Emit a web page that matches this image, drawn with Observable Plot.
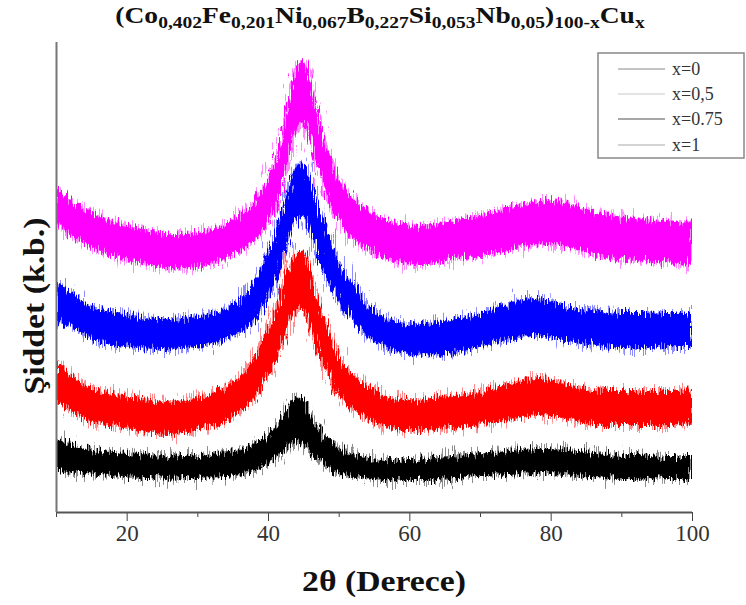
<!DOCTYPE html>
<html>
<head>
<meta charset="utf-8">
<script src="https://cdn.jsdelivr.net/npm/d3@7"></script>
<script src="https://cdn.jsdelivr.net/npm/@observablehq/plot@0.6"></script>
<style>
  html, body { margin: 0; padding: 0; background: #fff; }
  #chart { width: 746px; height: 605px; }
</style>
</head>
<body>
<div id="chart"></div>
<script>
// 2θ positions (degrees) where the envelope of each pattern was read
const twoTheta = [10,12,14,16,18,20,22,24,26,28,30,32,34,36,38,
  40,41,42,43,44,45,46,47,48,49,50,
  52,54,56,58,60,62,64,66,68,70,72,74,76,78,80,82,84,86,88,90,92,94,96,98,100];

const seriesNames = ["x=0", "x=0,5", "x=0.75", "x=1"];
const seriesColors = ["#000000", "#ff0000", "#0000ff", "#ff00ff"];
const legendLineColors = ["#8a8a8a", "#c8c8c8", "#505050", "#a8a8a8"];
const xTicks = [20, 40, 60, 80, 100];
const xMinorTicks = [10, 30, 50, 70, 90];

// centre of the noisy band (arbitrary intensity units, offset stacked)
const centre_x0 = [57,54,51,49,48,47,46,45,44,45,45,46,48,50,54,
  63,69,77,87,92,91,79,69,61,56,51,
  47,44,42,42,42,42,43,44,46,47,48,49,50,51,51,50,49,47,46,45,45,45,44,44,44];
const spread_x0 = [16,14,13,12,12,12,12,11,11,11,11,11,12,12,13,
  15,16,18,20,22,22,18,16,14,13,12,
  11,10,10,10,10,10,11,11,11,11,12,12,12,12,12,12,12,12,12,12,12,11,11,11,11];

const centre_x05 = [132,120,110,105,102,99,97,95,94,95,98,102,109,118,134,
  162,176,196,217,231,233,210,187,167,152,136,
  120,110,102,98,97,97,99,100,101,103,107,110,113,115,114,111,108,105,104,104,104,104,104,104,104];
const spread_x05 = [21,18,17,16,16,16,16,16,16,16,16,16,17,18,20,
  24,25,27,28,28,28,27,25,23,21,19,
  17,16,15,15,15,15,16,16,16,16,17,18,18,18,18,17,17,17,17,17,17,17,17,17,18];

const centre_x075 = [212,202,194,188,184,181,179,178,178,179,180,183,188,196,210,
  237,254,276,300,319,322,307,284,262,245,230,
  210,192,182,176,174,173,174,176,178,182,186,190,194,195,193,189,186,184,182,181,181,181,182,182,182];
const spread_x075 = [20,17,16,16,16,16,15,15,15,15,15,15,16,16,20,
  23,24,26,26,26,26,26,25,24,22,20,
  18,16,15,15,15,15,16,16,16,16,17,18,18,18,18,17,17,17,17,17,17,17,17,17,17];

const centre_x1 = [307,294,286,279,274,269,265,263,261,261,262,265,271,279,290,
  312,328,352,384,414,420,400,372,347,327,312,
  294,283,275,270,267,266,269,272,274,276,279,282,286,289,290,288,283,279,276,274,273,271,270,269,269];
const spread_x1 = [18,18,17,17,17,17,17,17,17,17,17,17,17,18,20,
  22,23,26,28,30,30,28,26,24,22,21,
  20,19,19,19,19,19,19,19,20,20,20,21,21,22,22,22,21,21,21,21,21,21,21,21,22];

const centres = [centre_x0, centre_x05, centre_x075, centre_x1];
const spreads = [spread_x0, spread_x05, spread_x075, spread_x1];

const rows = [];
seriesNames.forEach((s, i) => {
  twoTheta.forEach((t, j) => {
    rows.push({series: s, x: t, lo: centres[i][j] - spreads[i][j], hi: centres[i][j] + spreads[i][j]});
  });
});

const SERIF = "Liberation Serif";
const W = 746, H = 605;
const bandMarks = [];
seriesNames.forEach((s, i) => {
  const d = rows.filter(r => r.series === s);
  // faint spike halo, then the dense core of the pattern
  bandMarks.push(Plot.areaY(d, {x: "x", y1: "lo", y2: "hi", fill: seriesColors[i], fillOpacity: 0.45, curve: "catmull-rom"}));
  bandMarks.push(Plot.areaY(d, {x: "x", y1: "lo", y2: "hi", fill: seriesColors[i], curve: "catmull-rom"}));
});

const svg = Plot.plot({
  width: W, height: H,
  marginLeft: 56, marginRight: 54, marginTop: 42, marginBottom: 93,
  style: {fontFamily: SERIF, background: "#fff", color: "#3a3a3a"},
  x: {domain: [10, 100], label: null},
  y: {domain: [0, 470], axis: null, label: null},
  marks: [
    ...bandMarks,
    Plot.axisX({ticks: xMinorTicks, tickSize: 5, tickFormat: () => "", stroke: "#444", label: null}),
    Plot.axisX({ticks: xTicks, tickSize: 9, tickPadding: 3, fontSize: 23, stroke: "#444", fill: "#333", label: null}),
    Plot.ruleY([0], {stroke: "#555", strokeWidth: 2}),
    Plot.ruleX([10], {stroke: "#777", strokeWidth: 2})
  ]
});
document.getElementById("chart").appendChild(svg);

const root = d3.select(svg);
root.selectAll("text").attr("font-family", SERIF);
// texture filters to mimic the dense counting noise of the measured patterns
const defs = root.insert("defs", ":first-child");
function noiseFilter(id, freq, scale, seed) {
  const f = defs.append("filter").attr("id", id)
    .attr("x", "-5%").attr("y", "-40%").attr("width", "110%").attr("height", "180%");
  f.append("feTurbulence").attr("type", "fractalNoise").attr("baseFrequency", freq)
    .attr("numOctaves", 2).attr("seed", seed).attr("result", "t");
  f.append("feDisplacementMap").attr("in", "SourceGraphic").attr("in2", "t")
    .attr("scale", scale).attr("xChannelSelector", "R").attr("yChannelSelector", "G");
}
noiseFilter("noise", "0.7 0.06", 18, 4);
noiseFilter("noise2", "0.9 0.05", 34, 11);
defs.append("clipPath").attr("id", "plotclip").append("rect")
  .attr("x", 57).attr("y", 0).attr("width", 635).attr("height", 511);
root.selectAll("g[aria-label='area']").each(function(_, k) {
  d3.select(this).attr("filter", k % 2 ? "url(#noise)" : "url(#noise2)").attr("clip-path", "url(#plotclip)");
});

function fitH(sel, cx, target) {
  const w = sel.node().getBBox().width;
  const k = target / w;
  sel.attr("transform", `translate(${cx},0) scale(${k},1) translate(${-cx},0)`);
}

// title with subscripts
const title = root.append("text")
  .attr("x", 380).attr("y", 23).attr("text-anchor", "middle")
  .attr("font-family", SERIF).attr("fill", "#111");
const parts = [["(Co", 0], ["0,402", 1], ["Fe", 0], ["0,201", 1], ["Ni", 0], ["0,067", 1],
  ["B", 0], ["0,227", 1], ["Si", 0], ["0,053", 1], ["Nb", 0], ["0,05", 1], [")", 0], ["100-x", 1], ["Cu", 0], ["x", 1]];
let prevSub = 0;
parts.forEach(([t, sub]) => {
  const ts = title.append("tspan").text(t)
    .attr("font-family", SERIF)
    .attr("font-size", sub ? 17 : 24)
    .attr("font-weight", "bold");
  if (sub !== prevSub) ts.attr("dy", sub ? 5 : -5);
  prevSub = sub;
});
fitH(title, 380, 530);

// axis titles
const xl = root.append("text").attr("x", 384).attr("y", 591).attr("text-anchor", "middle")
  .attr("font-family", SERIF).attr("font-weight", "bold")
  .attr("font-size", 30).attr("fill", "#111").text("2θ (Derece)");
fitH(xl, 384, 164);
const yl = root.append("text").attr("text-anchor", "middle")
  .attr("font-family", SERIF).attr("font-weight", "bold")
  .attr("font-size", 29).attr("fill", "#111").text("Şiddet (k.b.)");
const ylw = yl.node().getBBox().width;
yl.attr("transform", `translate(44,306) rotate(-90) scale(${177 / ylw},1)`);

// legend
const lg = root.append("g");
lg.append("rect").attr("x", 598).attr("y", 53).attr("width", 146).attr("height", 105)
  .attr("fill", "#fff").attr("stroke", "#888").attr("stroke-width", 1.5);
const legendY = [69, 94, 119, 145];
seriesNames.forEach((s, i) => {
  lg.append("line").attr("x1", 618).attr("x2", 665).attr("y1", legendY[i]).attr("y2", legendY[i])
    .attr("stroke", legendLineColors[i]).attr("stroke-width", 1.2);
  lg.append("text").attr("x", 672).attr("y", legendY[i]).attr("dy", "0.35em")
    .attr("text-anchor", "start")
    .attr("font-family", SERIF).attr("font-size", 18).attr("fill", "#333").text(s);
});
</script>
</body>
</html>
